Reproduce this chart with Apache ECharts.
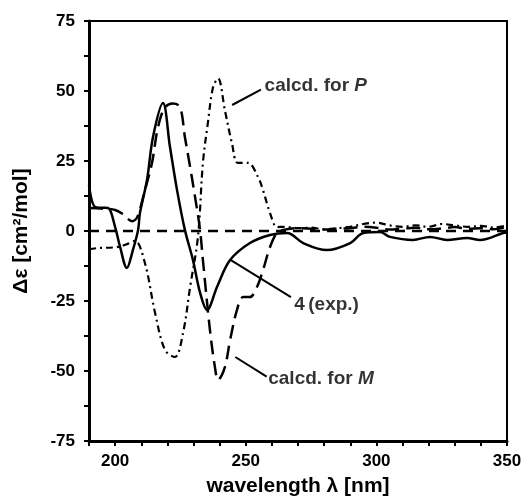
<!DOCTYPE html>
<html>
<head>
<meta charset="utf-8">
<script src="https://cdn.jsdelivr.net/npm/echarts@6/dist/echarts.min.js"></script>
<style>
  html, body { margin: 0; padding: 0; background: #fff; }
  #chart { width: 528px; height: 501px; }
</style>
</head>
<body>
<div id="chart"></div>
<script>
// CD spectra: experimental (4) vs. calculated for P and M
var expWl = [190, 192.3, 195, 197.3, 200, 201.9, 204.5, 206.8, 208.8, 209.5, 212.2, 214.5, 218.3, 221, 223.7, 226.7, 229.8, 232.5, 235.2, 239, 244, 251.6, 259.3, 265.8, 272, 281, 290, 295, 301.4, 305.2, 314, 320.5, 327, 334.7, 339.7, 348.5, 350];
var expDe = [16.4, 8.6, 8.3, 8.2, 1.4, -5.7, -13.2, -6.8, 0.4, 6.4, 18.2, 33.6, 45.7, 30, 14.6, 0.4, -10.4, -22, -28.2, -20, -10.4, -4.3, -1.4, -0.7, -4.3, -6.8, -4.3, -0.7, -0.4, -2.1, -3.2, -2.1, -3.2, -2.5, -3.2, -0.7, -0.5];

var calcMWl = [190, 195, 200, 203, 206.5, 208.5, 211.4, 214.1, 216.4, 219, 222, 224.8, 226.7, 228.7, 230.6, 232.5, 233.6, 236.3, 238.2, 239.4, 242, 244, 246.7, 249, 251.6, 254.3, 256.6, 259.3, 262, 265, 270, 275, 280, 285, 290, 295, 300, 305, 310, 315, 320, 325, 330, 335, 340, 345, 350];
var calcMDe = [8.2, 8, 7.5, 6, 3.5, 5, 14.6, 24.3, 37, 44, 45.5, 44.3, 33.6, 22.9, 12.1, 0.4, -10.4, -35.4, -48.6, -53.2, -48.6, -39, -28, -23.6, -23.6, -20, -14, -5.7, -0.7, 0.5, 1, 0.8, 0.5, 0.8, 1, 1.5, 1.2, 0.5, 0.8, 1.2, 0.6, 0.9, 1.4, 0.8, 1, 0.6, 1.5];

var calcPWl = [190, 193.4, 201.1, 205, 207.6, 211.4, 215.3, 219.1, 222.9, 226, 228.7, 231.7, 233.6, 235.5, 237.5, 239.4, 242, 244.7, 247, 250.9, 254.7, 256.6, 259.3, 262, 265, 270, 275, 280, 285, 290, 295, 300, 305, 310, 315, 320, 325, 330, 335, 340, 345, 350];
var calcPDe = [-6.5, -6.1, -5.7, -4.5, -3.5, -11.4, -29.3, -42.5, -45, -36.4, -20, -2.1, 24.3, 38.6, 51.4, 54.5, 43.2, 31.4, 24.3, 24.3, 19.3, 14.6, 6.4, 1.4, 1.5, 1, 1.2, 0.6, 1, 1.5, 2.5, 3, 2, 1.5, 2, 1.5, 2.5, 2, 1.5, 1.8, 1.2, 2];

// zero reference line
var baseWl = [190, 350];
var baseDe = [0, 0];

// annotation texts with their leader lines (data coordinates)
var notes = [
    {text: '{n|calcd. for }{i|P}', line: [[244.8, 45], [255.8, 50.5]], at: [257.2, 52]},
    {text: '{b|4} {n|(exp.)}', line: [[244.3, -10.4], [267.3, -23.6]], at: [268.6, -26.4]},
    {text: '{n|calcd. for }{i|M}', line: [[246, -45], [258, -52]], at: [258.6, -52.6]}
];

function pairs(xs, ys) {
    var out = [];
    for (var i = 0; i < xs.length; i++) {
        out.push([xs[i], ys[i]]);
    }
    return out;
}

var FONT = '"Liberation Sans", Arial, sans-serif';

var chart = echarts.init(document.getElementById('chart'), null, {renderer: 'canvas'});

var series = [
    {
        name: 'baseline',
        type: 'line',
        data: pairs(baseWl, baseDe),
        symbol: 'none',
        silent: true,
        lineStyle: {color: '#000', width: 2.5, type: [10, 7]},
        z: 1
    },
    {
        name: '4 (exp.)',
        type: 'line',
        data: pairs(expWl, expDe),
        smooth: 0.35,
        symbol: 'none',
        lineStyle: {color: '#000', width: 2.5},
        z: 5
    },
    {
        name: 'calcd. for M',
        type: 'line',
        data: pairs(calcMWl, calcMDe),
        smooth: 0.35,
        symbol: 'none',
        lineStyle: {color: '#000', width: 2.5, type: [14, 7]}
    },
    {
        name: 'calcd. for P',
        type: 'line',
        data: pairs(calcPWl, calcPDe),
        smooth: 0.35,
        symbol: 'none',
        lineStyle: {color: '#000', width: 2.2, type: [7, 4, 2, 4]}
    }
];

for (var k = 0; k < notes.length; k++) {
    series.push({
        type: 'line',
        data: notes[k].line,
        symbol: 'none',
        silent: true,
        lineStyle: {color: '#000', width: 2}
    });
    series.push({
        type: 'scatter',
        data: [notes[k].at],
        symbolSize: 0,
        silent: true,
        label: {
            show: true,
            position: 'right',
            distance: 0,
            formatter: notes[k].text,
            rich: {
                n: {fontFamily: FONT, fontSize: 19, fontWeight: 'bold', color: '#000'},
                b: {fontFamily: FONT, fontSize: 19, fontWeight: 'bold', color: '#000'},
                i: {fontFamily: FONT, fontSize: 19, fontWeight: 'bold', fontStyle: 'italic', color: '#000'}
            }
        }
    });
}

var option = {
    animation: false,
    backgroundColor: '#fff',
    grid: {
        left: 89, right: 21, top: 21, bottom: 60,
        show: true,
        borderColor: '#000',
        borderWidth: 2,
        outerBoundsMode: 'none'
    },
    xAxis: {
        type: 'value',
        min: 190,
        max: 350,
        interval: 10,
        name: 'wavelength λ [nm]',
        nameLocation: 'middle',
        nameGap: 35,
        nameTextStyle: {fontFamily: FONT, fontSize: 21, fontWeight: 'bold', color: '#000'},
        axisLine: {onZero: false, lineStyle: {color: '#000', width: 3}},
        axisTick: {length: 5, lineStyle: {color: '#000', width: 2}},
        axisLabel: {
            interval: 0,
            margin: 12,
            fontFamily: FONT, fontSize: 17, fontWeight: 'bold', color: '#000',
            formatter: function (v) { return v % 50 === 0 ? v : ''; }
        },
        splitLine: {show: false}
    },
    yAxis: {
        type: 'value',
        min: -75,
        max: 75,
        interval: 12.5,
        name: 'Δε [cm²/mol]',
        nameLocation: 'middle',
        nameGap: 57,
        nameTextStyle: {fontFamily: FONT, fontSize: 21, fontWeight: 'bold', color: '#000'},
        axisLine: {onZero: false, lineStyle: {color: '#000', width: 3}},
        axisTick: {length: 5, lineStyle: {color: '#000', width: 2}},
        axisLabel: {
            interval: 0,
            margin: 14,
            fontFamily: FONT, fontSize: 17, fontWeight: 'bold', color: '#000',
            formatter: function (v) { return v % 25 === 0 ? v : ''; }
        },
        splitLine: {show: false}
    },
    series: series
};

chart.setOption(option);
</script>
</body>
</html>
